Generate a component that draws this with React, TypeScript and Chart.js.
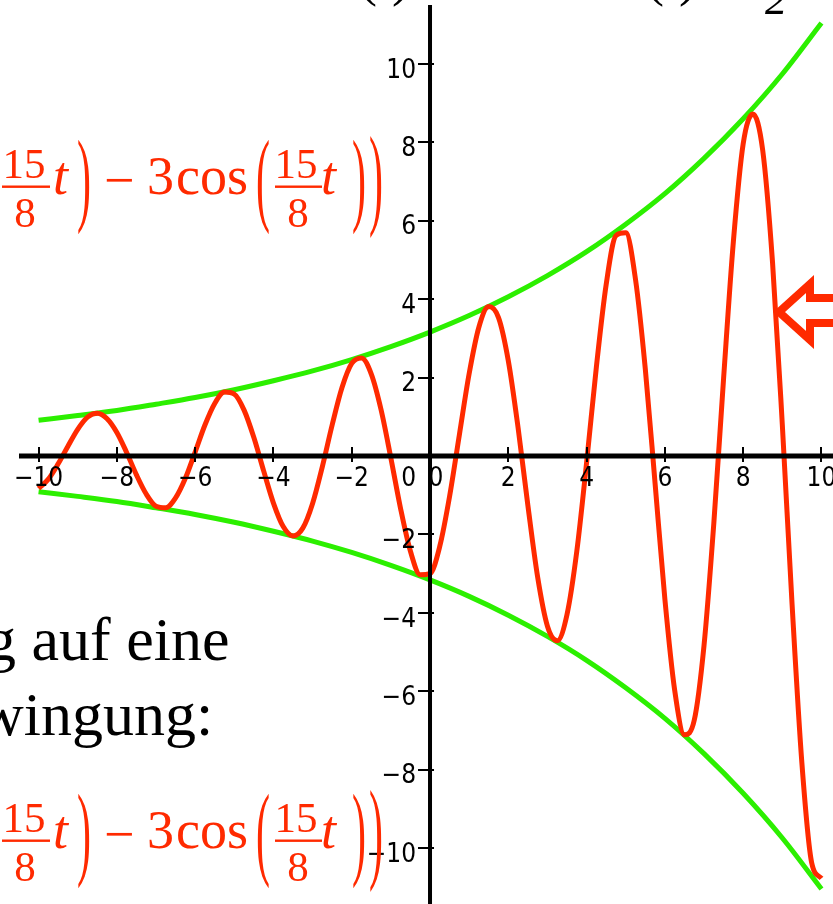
import { useEffect, useRef } from "react";
import { Chart, registerables } from "chart.js";

Chart.register(...registerables);

// Growing oscillation x(t) with its exponential envelope, axes crossing at the origin
const RED = "#ff2a00";
const GREEN = "#2cef00";
const SERIF = '"Liberation Serif", "Times New Roman", serif';
const TICK_FONT = '"DejaVu Sans Condensed", "DejaVu Sans", sans-serif';

const tSamples = [
  -10, -9.75, -9.5, -9.25, -9, -8.75, -8.5, -8.25, -8, -7.75,
  -7.5, -7.25, -7, -6.75, -6.5, -6.25, -6, -5.75, -5.5, -5.25,
  -5, -4.75, -4.5, -4.25, -4, -3.75, -3.5, -3.25, -3, -2.75,
  -2.5, -2.25, -2, -1.75, -1.5, -1.25, -1, -0.75, -0.5, -0.25,
  0, 0.25, 0.5, 0.75, 1, 1.25, 1.5, 1.75, 2, 2.25,
  2.5, 2.75, 3, 3.25, 3.5, 3.75, 4, 4.25, 4.5, 4.75,
  5, 5.25, 5.5, 5.75, 6, 6.25, 6.5, 6.75, 7, 7.25,
  7.5, 7.75, 8, 8.25, 8.5, 8.75, 9, 9.25, 9.5, 9.75,
  10,
];

const oscillation = [
  -0.83, -0.59, -0.2, 0.25, 0.68, 0.99, 1.09, 0.95, 0.6, 0.09,
  -0.48, -0.97, -1.28, -1.32, -1.07, -0.57, 0.1, 0.79, 1.34, 1.63,
  1.58, 1.17, 0.47, -0.38, -1.2, -1.8, -2.04, -1.84, -1.21, -0.27,
  0.79, 1.74, 2.36, 2.5, 2.09, 1.18, -0.05, -1.35, -2.43, -3.03,
  -3.0, -2.3, -1.03, 0.54, 2.1, 3.29, 3.81, 3.53, 2.43, 0.72,
  -1.26, -3.09, -4.34, -4.71, -4.04, -2.43, -0.17, 2.27, 4.37, 5.62,
  5.69, 4.5, 2.22, -0.7, -3.65, -5.97, -7.11, -6.74, -4.83, -1.72,
  1.98, 5.47, 7.96, 8.72, 7.79, 4.94, 0.8, -3.79, -7.83, -10.37,
  -10.77,
];

const envelopeT = [-10, -9, -8, -7, -6, -5, -4, -3, -2, -1, 0, 1, 2, 3, 4, 5, 6, 7, 8, 9, 10];
const envelopeUpper = [
  0.91, 1.03, 1.16, 1.32, 1.49, 1.69, 1.92, 2.17, 2.46, 2.79, 3.16,
  3.58, 4.06, 4.6, 5.21, 5.91, 6.69, 7.59, 8.6, 9.74, 11.04,
];
const envelopeLower = [
  -0.91, -1.03, -1.16, -1.32, -1.49, -1.69, -1.92, -2.17, -2.46, -2.79, -3.16,
  -3.58, -4.06, -4.6, -5.21, -5.91, -6.69, -7.59, -8.6, -9.74, -11.04,
];

const xTickValues = [-10, -8, -6, -4, -2, 2, 4, 6, 8, 10];
const yTickValues = [-10, -8, -6, -4, -2, 2, 4, 6, 8, 10];
const originLabel = "0";

const minusLabel = (v: number) => (v < 0 ? "\u2212" + Math.abs(v) : String(v));

// tall, vertically stretched delimiter drawn as a glyph
function stretchedParen(ctx: CanvasRenderingContext2D, ch: string, x: number, top: number, bottom: number, size: number) {
  const asc = 0.694 * size;
  const desc = 0.181 * size;
  const sy = (bottom - top) / (asc + desc);
  ctx.save();
  ctx.translate(x, top);
  ctx.scale(1, sy);
  ctx.font = `${size}px ${SERIF}`;
  ctx.textAlign = "left";
  ctx.textBaseline = "alphabetic";
  ctx.fillText(ch, 0, asc);
  ctx.restore();
}

function drawFormula(ctx: CanvasRenderingContext2D, B: number) {
  ctx.save();
  ctx.fillStyle = RED;
  ctx.textBaseline = "alphabetic";
  // first fraction 15/8
  ctx.font = `43px ${SERIF}`;
  ctx.textAlign = "center";
  ctx.fillText("15", 24, B - 16);
  ctx.fillText("8", 25, B + 33);
  ctx.fillRect(2, B - 8.5, 48, 2.4);
  ctx.textAlign = "left";
  ctx.font = `italic 54px ${SERIF}`;
  ctx.fillText("t", 53, B);
  stretchedParen(ctx, ")", 77, B - 53, B + 37, 42);
  ctx.font = `54px ${SERIF}`;
  ctx.fillText("\u2212", 104, B + 4);
  ctx.fillText("3", 147, B);
  ctx.fillText("cos", 176, B);
  stretchedParen(ctx, "(", 256, B - 53, B + 37, 42);
  // second fraction 15/8
  ctx.font = `43px ${SERIF}`;
  ctx.textAlign = "center";
  ctx.fillText("15", 296, B - 16);
  ctx.fillText("8", 298, B + 33);
  ctx.fillRect(275, B - 8.5, 47, 2.4);
  ctx.textAlign = "left";
  ctx.font = `italic 54px ${SERIF}`;
  ctx.fillText("t", 321, B);
  stretchedParen(ctx, ")", 352, B - 53, B + 37, 42);
  stretchedParen(ctx, ")", 369, B - 58, B + 40, 42);
  ctx.restore();
}

const slidePlugin = {
  id: "slideText",
  afterDraw(chart: Chart) {
    const ctx = chart.ctx;
    ctx.save();
    // fragments of the line above the plot
    ctx.fillStyle = "#000";
    ctx.textAlign = "left";
    ctx.textBaseline = "alphabetic";
    ctx.font = `54px ${SERIF}`;
    ctx.fillText("(t)", 359, -5);
    ctx.fillText("(t)", 646, -5);
    ctx.font = `italic 44px ${SERIF}`;
    ctx.fillText("2", 765, 14);

    // red formula lines
    drawFormula(ctx, 194);
    drawFormula(ctx, 848);

    // black body text
    ctx.fillStyle = "#000";
    ctx.textAlign = "left";
    ctx.font = `62px ${SERIF}`;
    ctx.fillText("g auf eine", -15, 660);
    ctx.fillText("wingung:", -21, 735);

    // hollow arrow pointing at the curve
    ctx.strokeStyle = RED;
    ctx.lineWidth = 8;
    ctx.lineJoin = "miter";
    ctx.miterLimit = 10;
    ctx.beginPath();
    ctx.moveTo(845, 298);
    ctx.lineTo(810, 298);
    ctx.lineTo(810, 284);
    ctx.lineTo(779, 312);
    ctx.lineTo(810, 340);
    ctx.lineTo(810, 323);
    ctx.lineTo(845, 323);
    ctx.stroke();
    ctx.restore();
  },
};

// axes through the origin, crossing tick marks and tick labels, placed with the chart's scales
const originAxesPlugin = {
  id: "originAxes",
  beforeDatasetsDraw(chart: Chart) {
    const ctx = chart.ctx;
    const sx = chart.scales.x;
    const sy = chart.scales.y;
    const ox = sx.getPixelForValue(0);
    const oy = sy.getPixelForValue(0);
    ctx.save();
    ctx.fillStyle = "#000";
    ctx.font = `26px ${TICK_FONT}`;
    ctx.textBaseline = "middle";
    ctx.textAlign = "right";
    ctx.fillText(originLabel, ox - 14, oy + 23);
    ctx.textAlign = "center";
    ctx.fillText(originLabel, ox + 6, oy + 23);
    ctx.restore();
  },
  afterDatasetsDraw(chart: Chart) {
    const ctx = chart.ctx;
    const area = chart.chartArea;
    const sx = chart.scales.x;
    const sy = chart.scales.y;
    const ox = sx.getPixelForValue(0);
    const oy = sy.getPixelForValue(0);
    ctx.save();
    ctx.strokeStyle = "#000";
    // axis lines
    ctx.lineWidth = 5;
    ctx.beginPath();
    ctx.moveTo(area.left, oy);
    ctx.lineTo(area.right, oy);
    ctx.stroke();
    ctx.lineWidth = 4;
    ctx.beginPath();
    ctx.moveTo(ox, area.top);
    ctx.lineTo(ox, area.bottom);
    ctx.stroke();
    // tick marks
    ctx.lineWidth = 2;
    ctx.beginPath();
    xTickValues.forEach((v) => {
      const px = Math.round(sx.getPixelForValue(v));
      ctx.moveTo(px, oy - 9);
      ctx.lineTo(px, oy + 6);
    });
    yTickValues.forEach((v) => {
      const py = Math.round(sy.getPixelForValue(v));
      ctx.moveTo(ox - 12, py);
      ctx.lineTo(ox + 4, py);
    });
    ctx.stroke();
    // tick labels
    ctx.fillStyle = "#000";
    ctx.font = `26px ${TICK_FONT}`;
    ctx.textBaseline = "middle";
    ctx.textAlign = "center";
    xTickValues.forEach((v) => {
      ctx.fillText(minusLabel(v), sx.getPixelForValue(v), oy + 23);
    });
    ctx.textAlign = "right";
    yTickValues.forEach((v) => {
      ctx.fillText(minusLabel(v), ox - 14, sy.getPixelForValue(v) + 7);
    });
    ctx.restore();
  },
};

export default function App() {
  const canvasRef = useRef<HTMLCanvasElement | null>(null);

  useEffect(() => {
    const canvas = canvasRef.current;
    if (!canvas) return;
    const chart = new Chart(canvas, {
      type: "line",
      data: {
        datasets: [
          {
            label: "x(t)",
            data: tSamples.map((t, i) => ({ x: t, y: oscillation[i] })),
            borderColor: RED,
            borderWidth: 5,
            pointRadius: 0,
            cubicInterpolationMode: "monotone",
            fill: false,
          },
          {
            label: "upper envelope",
            data: envelopeT.map((t, i) => ({ x: t, y: envelopeUpper[i] })),
            borderColor: GREEN,
            borderWidth: 5,
            pointRadius: 0,
            cubicInterpolationMode: "monotone",
            fill: false,
          },
          {
            label: "lower envelope",
            data: envelopeT.map((t, i) => ({ x: t, y: envelopeLower[i] })),
            borderColor: GREEN,
            borderWidth: 5,
            pointRadius: 0,
            cubicInterpolationMode: "monotone",
            fill: false,
          },
        ],
      },
      options: {
        responsive: false,
        maintainAspectRatio: false,
        animation: false,
        events: [],
        layout: { padding: { left: 19, top: 5, right: 0, bottom: 0 } },
        plugins: {
          legend: { display: false },
          tooltip: { enabled: false },
          title: { display: false },
        },
        scales: {
          x: { type: "linear", display: false, min: -10.5, max: 10.295 },
          y: { type: "linear", display: false, min: -11.424, max: 11.5 },
        },
      },
      plugins: [originAxesPlugin, slidePlugin],
    });
    return () => chart.destroy();
  }, []);

  return (
    <div style={{ position: "fixed", left: 0, top: 0, width: 833, height: 904, background: "#fff" }}>
      <canvas ref={canvasRef} width={833} height={904} style={{ display: "block" }} />
    </div>
  );
}
